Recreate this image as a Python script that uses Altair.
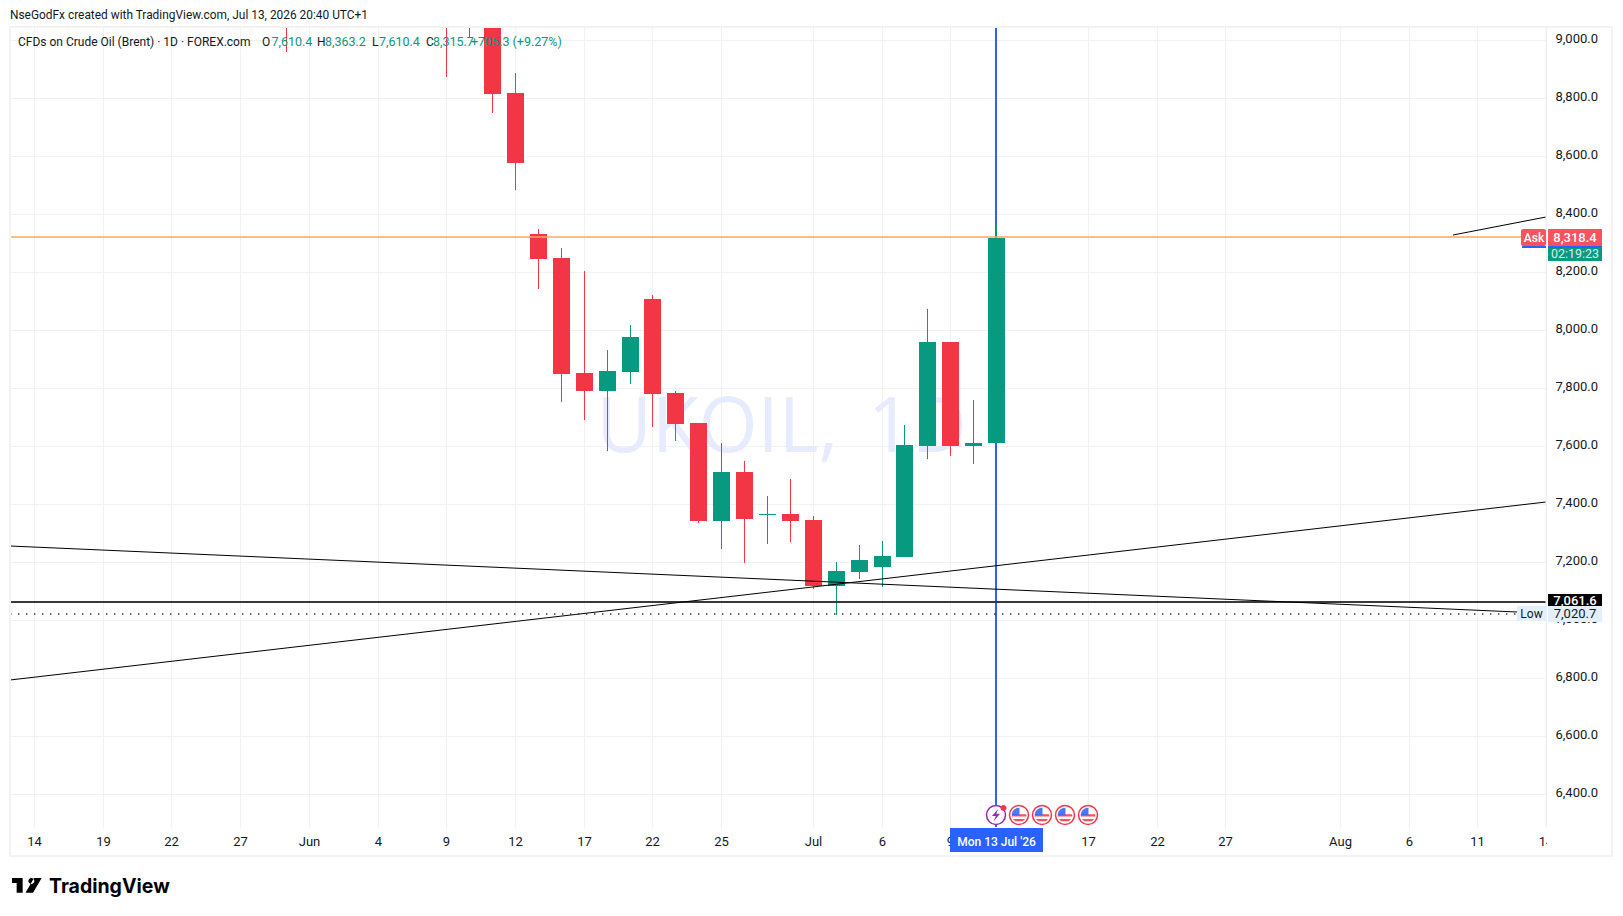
import json
import altair as alt
import pandas as pd

FONT = "Roboto"
UP = "#089981"
DOWN = "#F23645"

# ---- candle data (bar index relative to 13 Jul 2026, prices)
idx    = [-31, -24, -23, -22, -21, -20, -19, -18, -17, -16, -15, -14, -13, -12, -11, -10, -9, -8, -7, -6, -5, -4, -3, -2, -1, 0]
opens  = [9046, 9046, 9046, 9046, 8818, 8332, 8249, 7853, 7791, 7856, 8108, 7784, 7680, 7342, 7511, 7363, 7367, 7346, 7118, 7167, 7184, 7218, 7601, 7960, 7601, 7610]
highs  = [9046, 9046, 9046, 9046, 8887, 8349, 8284, 8204, 7932, 8018, 8122, 7791, 7680, 7611, 7549, 7429, 7487, 7360, 7201, 7260, 7274, 7673, 8073, 7960, 7760, 8363]
lows   = [8961, 8874, 9012, 8750, 8484, 8142, 7754, 7691, 7584, 7815, 7667, 7618, 7336, 7246, 7198, 7263, 7270, 7108, 7020, 7142, 7115, 7218, 7556, 7567, 7539, 7610]
closes = [9046, 9046, 9046, 8816, 8578, 8247, 7850, 7791, 7860, 7977, 7780, 7677, 7342, 7511, 7349, 7366, 7342, 7118, 7170, 7208, 7222, 7605, 7960, 7601, 7611, 8318]

# ---- axes
tick_pos    = [-42, -39, -36, -33, -30, -27, -24, -21, -18, -15, -12, -8, -5, -2, 0, 4, 7, 10, 15, 18, 21, 24]
tick_labels = ["14", "19", "22", "27", "Jun", "4", "9", "12", "17", "22", "25", "Jul", "6", "9", "", "17", "22", "27", "Aug", "6", "11", ""]
price_ticks = [6400, 6600, 6800, 7000, 7200, 7400, 7600, 7800, 8000, 8200, 8400, 8600, 8800, 9000]

# ---- drawn lines
rise_x, rise_y = [-43.04, 24.0], [6794, 7408]
fall_x, fall_y = [-43.04, 22.74], [7255, 7029]
short_x, short_y = [19.96, 24.0], [8329, 8392]
ask_level = 8322
support_level = 7061.6
low_level = 7020.7
low_x = [-43.04, 22.74]
event_x = [0, 1, 2, 3, 4]
event_price = 6329

TOP = 27
W, H = 1536, 800
x_scale = alt.Scale(domain=[-43.04, 24.0], range=[0, W], nice=False, zero=False, round=True, padding=0)
y_scale = alt.Scale(domain=[6287.4, 9045.8], range=[H, 0], nice=False, zero=False, round=True)
X = alt.X("x:Q", scale=x_scale, title=None)
Y = alt.Y("y:Q", scale=y_scale, title=None)

df = pd.DataFrame(dict(i=idx, o=opens, h=highs, l=lows, c=closes))
df["col"] = [UP if c >= o else DOWN for o, c in zip(opens, closes)]
# cut-off wicks are coloured by what the picture shows
df.loc[df.i == -31, "col"] = DOWN
df.loc[df.i == -24, "col"] = DOWN
df.loc[df.i == -23, "col"] = UP
df["top"] = df[["o", "c"]].max(axis=1)
df["bot"] = df[["o", "c"]].min(axis=1)
df.loc[(df.top - df.bot) < 4, "bot"] = df.top - 4

label_map = json.dumps({str(p): t for p, t in zip(tick_pos, tick_labels)})

base = alt.Chart(pd.DataFrame({"x": [0], "y": [7000]}))

axes = base.mark_point(opacity=0).encode(
    x=alt.X("x:Q", scale=x_scale, title=None, axis=alt.Axis(
        values=tick_pos, labelExpr=f"{label_map}[''+datum.value]",
        grid=True, gridColor="#f1f1f2", ticks=False, domain=False,
        labelFont=FONT, labelFontSize=13, labelColor="#131722", labelPadding=8,
        labelOverlap=False, labelFlush=False)),
    y=alt.Y("y:Q", scale=y_scale, title=None, axis=alt.Axis(
        orient="right", values=price_ticks, format=",.1f",
        grid=True, gridColor="#f1f1f2", ticks=False, domain=False,
        labelFont=FONT, labelFontSize=13, labelColor="#131722", labelPadding=9, labelOffset=-2,
        labelOverlap=False, labelFlush=False)),
)

def T(text, px, py, size=13, color="#131722", align="left", weight="normal", font=FONT):
    return alt.Chart(pd.DataFrame({"t": [text]})).mark_text(
        align=align, baseline="middle", fontSize=size, color=color, fontWeight=weight, font=font
    ).encode(text="t:N", x=alt.value(px - 10), y=alt.value(py - TOP))

def box(x0, x1, y0, y1, color, **kw):
    return base.mark_rect(color=color, **kw).encode(
        x=alt.value(x0 - 10), x2=alt.value(x1 - 10), y=alt.value(y0 - TOP), y2=alt.value(y1 - TOP))

def rule_h(v, color, sw, **kw):
    return alt.Chart(pd.DataFrame({"y": [v]})).mark_rule(color=color, strokeWidth=sw, **kw).encode(y=Y)

def line(xs, ys, color="#000000", sw=1, **kw):
    return alt.Chart(pd.DataFrame({"x": xs, "y": ys})).mark_line(color=color, strokeWidth=sw, **kw).encode(x=X, y=Y)

def glyph(path, px, py, size, color="#000000"):
    return base.mark_point(shape=path, size=size, filled=True, color=color, opacity=1).encode(
        x=alt.value(px - 10), y=alt.value(py - TOP))

watermark = T("UKOIL,", 596.5, 429, size=76, color="#e6ebfd", font="Open Sans")
watermark2 = T("1D", 868, 429, size=76, color="#e6ebfd", font="Open Sans")
blue = alt.Chart(pd.DataFrame({"x": [0]})).mark_rule(color="#2962FF", strokeWidth=2).encode(x=X)

wicks = alt.Chart(df).mark_rule(strokeWidth=1, xOffset=0.5).encode(
    x=alt.X("i:Q", scale=x_scale), y=alt.Y("h:Q", scale=y_scale), y2="l:Q",
    color=alt.Color("col:N", scale=None))
bodies = alt.Chart(df[df.i >= -22]).mark_bar(size=17, xOffset=0.5).encode(
    x=alt.X("i:Q", scale=x_scale), y=alt.Y("top:Q", scale=y_scale), y2="bot:Q",
    color=alt.Color("col:N", scale=None))

# event badges
ev = pd.DataFrame({"x": event_x[1:], "y": [event_price] * 4})
ev_first = pd.DataFrame({"x": event_x[:1], "y": [event_price]})
ev_x = X
ev_y = Y
RED_STRIPES = "M-0.72,-0.08 L0.72,-0.08 A0.72,0.72 0 0 1 0.72,0.16 L-0.72,0.16 Z M-0.6,0.4 L0.6,0.4 A0.72,0.72 0 0 1 0.35,0.62 L-0.35,0.62 A0.72,0.72 0 0 1 -0.6,0.4 Z"
CANTON = "M-0.72,0.02 A0.72,0.72 0 0 1 0.05,-0.72 L0.05,0.02 Z"
BOLT = "M0.25,-0.65 L-0.4,0.1 L-0.02,0.1 L-0.25,0.65 L0.4,-0.12 L0.02,-0.12 Z"
badges = [
    alt.Chart(ev).mark_point(shape="circle", size=360, filled=True, fill="white", stroke="#F23645", strokeWidth=1.5, opacity=1).encode(x=ev_x, y=ev_y),
    alt.Chart(ev).mark_point(shape=RED_STRIPES, size=400, filled=True, color="#F7525F", opacity=1).encode(x=ev_x, y=ev_y),
    alt.Chart(ev).mark_point(shape=CANTON, size=400, filled=True, color="#2962FF", opacity=0.85).encode(x=ev_x, y=ev_y),
    alt.Chart(ev_first).mark_point(shape="circle", size=360, filled=True, fill="white", stroke="#9C27B0", strokeWidth=1.5, opacity=1).encode(x=ev_x, y=ev_y),
    alt.Chart(ev_first).mark_point(shape=BOLT, size=400, filled=True, color="#9C27B0", opacity=1).encode(x=ev_x, y=ev_y),
    box(1000.5, 1006.5, 805, 811, "#F23645", cornerRadius=3),
]

frame = box(10, 1612, 27, 856, "#000000", fill=None, stroke="#f3f3f4", strokeWidth=2)
sep_v = base.mark_rule(color="#eeeeef").encode(x=alt.value(W), y=alt.value(0), y2=alt.value(H))

LOGO = ("M-1,-0.5 L-0.29,-0.5 L-0.29,0.48 L-0.69,0.48 L-0.69,-0.17 L-1,-0.17 Z "
        "M0.09,-0.3 A0.2,0.2 0 1 0 0.49,-0.3 A0.2,0.2 0 1 0 0.09,-0.3 Z "
        "M0.47,-0.5 L0.98,-0.5 L0.4,0.48 L-0.1,0.48 Z")

layers = [axes, watermark, watermark2, blue, wicks, bodies,
          rule_h(support_level, "#3a3a3a", 2),
          line(rise_x, rise_y), line(fall_x, fall_y), line(short_x, short_y),
          line(low_x, [low_level, low_level], color="#333333", sw=1.4, strokeDash=[1.4, 6.6]),
          rule_h(ask_level, "#F9A85C", 1.5),
          T("14", 1546, 842, align="center"),
          box(1547, 1570, 830, 852, "#ffffff"),
          frame, sep_v,
          *badges,
          # date flag
          box(950, 1043, 828, 852, "#2962FF"),
          T("Mon 13 Jul '26", 996.5, 842, size=12, color="white", align="center", weight=500),
          # price flags
          box(1521, 1546, 229, 246, "#F7525F", cornerRadius=2),
          box(1522, 1546, 246, 248, "#2962FF"),
          T("Ask", 1534, 238, size=12, color="white", align="center", weight=500),
          box(1548, 1602, 229, 246, "#F7525F", cornerRadius=1),
          box(1548, 1602, 246, 248, "#2962FF"),
          box(1548, 1602, 248, 261, UP),
          T("8,318.4", 1575, 237.5, size=13, color="white", align="center", weight=500),
          T("02:19:23", 1575, 254, size=12.5, color="#d8f0ea", align="center"),
          box(1548, 1602, 594, 606, "#000000"),
          T("7,061.6", 1575, 601, size=13, color="white", align="center", weight=500),
          box(1517, 1546, 606, 621, "#e3effd"),
          box(1548, 1602, 606, 622, "#e3effd"),
          T("Low", 1531.5, 614, size=12, align="center"),
          T("7,020.7", 1575, 613.5, size=13, align="center"),
          # header
          T("NseGodFx created with TradingView.com, Jul 13, 2026 20:40 UTC+1", 10, 14.5, size=11.9),
          T("CFDs on Crude Oil (Brent) · 1D · FOREX.com", 18, 41.5, size=12),
          T("O", 262, 41.5, size=12), T("7,610.4", 271.5, 41.5, size=12.5, color=UP),
          T("H", 317, 41.5, size=12), T("8,363.2", 325, 41.5, size=12.5, color=UP),
          T("L", 372, 41.5, size=12), T("7,610.4", 379, 41.5, size=12.5, color=UP),
          T("C", 426, 41.5, size=12), T("8,315.7", 433, 41.5, size=12.5, color=UP),
          T("+705.3 (+9.27%)", 471, 41.5, size=12.5, color=UP),
          # logo
          glyph(LOGO, 27, 885.5, 900),
          T("TradingView", 49, 887, size=19.5, color="#000000", weight="bold", font="Inter"),
          ]

chart = alt.layer(*layers).resolve_scale(x="shared", y="shared").properties(
    width=W, height=H, background="white",
    padding={"left": 2, "top": 19, "right": 69, "bottom": 81},
    autosize=alt.AutoSizeParams(type="none"),
).configure_view(strokeWidth=0).configure_axis(domain=False, ticks=False)

chart.save("out.html", embed_options={"renderer": "svg", "actions": False})
